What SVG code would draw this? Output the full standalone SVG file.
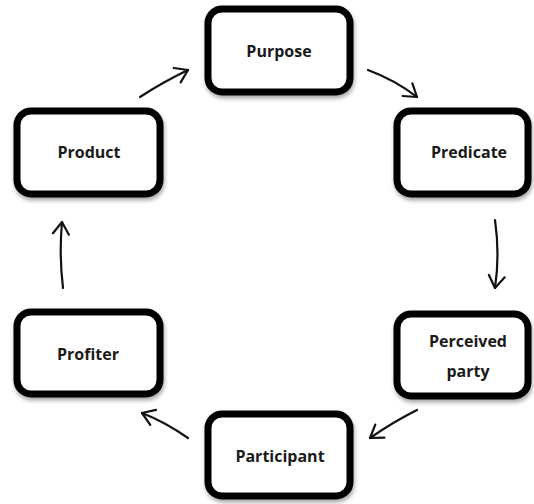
<svg xmlns="http://www.w3.org/2000/svg" width="534" height="504" viewBox="0 0 534 504">
<style>
.box{fill:#fff;stroke:#000;stroke-width:7;filter:url(#sh)}
.lbl{font-family:"Open Sans","DejaVu Sans",sans-serif;font-weight:bold;font-size:16px;fill:#1a1a1a;text-anchor:middle}
.con{fill:none;stroke:#111;stroke-width:2.2;stroke-linecap:round;marker-end:url(#ah)}
</style>
<defs>
<filter id="sh" x="-10%" y="-10%" width="130%" height="130%">
<feGaussianBlur in="SourceAlpha" stdDeviation="2"/>
<feOffset dx="1" dy="3" result="b"/>
<feComponentTransfer><feFuncA type="linear" slope="0.35"/></feComponentTransfer>
<feMerge><feMergeNode/><feMergeNode in="SourceGraphic"/></feMerge>
</filter>
<marker id="ah" viewBox="0 0 20 20" refX="18" refY="10" markerWidth="20" markerHeight="20" markerUnits="userSpaceOnUse" orient="auto">
<path d="M6,2 L18,10 L6,18" fill="none" stroke="#111" stroke-width="2.2" stroke-linecap="round" stroke-linejoin="round"/>
</marker>
</defs>
<g id="connectors">
<path class="con" d="M140,97 Q163,82 188,70"/>
<path class="con" d="M368,70 Q395,80 417,97"/>
<path class="con" d="M495,220 Q500,255 495,288"/>
<path class="con" d="M417,410 Q393,422 370,438"/>
<path class="con" d="M188,438 Q165,422 142,413"/>
<path class="con" d="M63,288 Q59,255 62,222"/>
</g>
<g id="purpose"><rect class="box" x="208" y="9" width="142" height="83" rx="14"/><text class="lbl" x="279" y="57">Purpose</text></g>
<g id="predicate"><rect class="box" x="397" y="111" width="131" height="83" rx="14"/><text class="lbl" x="469" y="158">Predicate</text></g>
<g id="perceived"><rect class="box" x="397" y="314" width="131" height="82" rx="14"/><text class="lbl" x="468" y="347">Perceived</text><text class="lbl" x="468" y="377">party</text></g>
<g id="participant"><rect class="box" x="208" y="414" width="142" height="82" rx="14"/><text class="lbl" x="280" y="462">Participant</text></g>
<g id="profiter"><rect class="box" x="17" y="312" width="143" height="82" rx="14"/><text class="lbl" x="88" y="360">Profiter</text></g>
<g id="product"><rect class="box" x="17" y="111" width="143" height="83" rx="14"/><text class="lbl" x="89" y="158">Product</text></g>
</svg>
